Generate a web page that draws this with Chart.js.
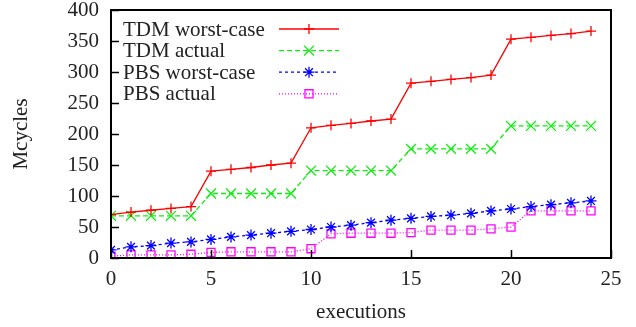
<!DOCTYPE html>
<html>
<head>
<meta charset="utf-8">
<script src="https://cdn.jsdelivr.net/npm/chart.js@4.4.0/dist/chart.umd.min.js"></script>
<style>
  html, body { margin: 0; padding: 0; background: #fff; }
  #wrap { width: 636px; height: 327px; }
</style>
</head>
<body>
<div id="wrap"><canvas id="chart" width="636" height="327"></canvas></div>
<script>
// executions 0..24
const executions = [0,1,2,3,4,5,6,7,8,9,10,11,12,13,14,15,16,17,18,19,20,21,22,23,24];
const tdmWorst  = [70,74,77,80,83, 140,143,146,150,153, 210,214,217,221,224, 282,285,288,291,295, 353,356,359,362,366];
const tdmActual = [68,68,68,68,68, 104,104,104,104,104, 141,141,141,141,141, 176,176,176,176,176, 213,213,213,213,213];
const pbsWorst  = [13,18,20,24,26, 30,34,37,40,43, 46,50,53,57,61, 64,67,69,72,76, 79,83,86,89,92];
const pbsActual = [3,5,5,5,6, 9,10,10,10,10, 15,39,40,40,40, 41,45,45,45,47, 50,76,76,76,76];
const xTicks = [0,5,10,15,20,25];
const yTicks = [0,50,100,150,200,250,300,350,400];

const serif = '"Liberation Serif", "Times New Roman", serif';

function pts(arr) {
    return executions.map((x, i) => ({ x: x, y: arr[i] }));
}

// gnuplot style frame, inward ticks and key
const gnuplotLook = {
    id: 'gnuplotLook',
    afterDraw(chart) {
        const ctx = chart.ctx;
        const a = chart.chartArea;
        const xs = chart.scales.x, ys = chart.scales.y;
        ctx.save();
        ctx.strokeStyle = '#000';
        ctx.lineWidth = 1.5;
        ctx.beginPath();
        xTicks.forEach(v => {
            const px = Math.round(xs.getPixelForValue(v)) + 0.5;
            ctx.moveTo(px, a.bottom);
            ctx.lineTo(px, a.bottom - 8);
        });
        yTicks.forEach(v => {
            const py = Math.round(ys.getPixelForValue(v)) + 0.5;
            ctx.moveTo(a.left, py);
            ctx.lineTo(a.left + 8, py);
        });
        ctx.stroke();
        ctx.lineWidth = 2;
        ctx.strokeRect(a.left, a.top, a.right - a.left, a.bottom - a.top);

        // key
        ctx.font = '21px ' + serif;
        ctx.textBaseline = 'middle';
        ctx.textAlign = 'left';
        chart.data.datasets.forEach((ds, i) => {
            const y = 29 + i * 21.6;
            ctx.fillStyle = '#222';
            ctx.fillText(ds.label, 123, y + 1);
            ctx.strokeStyle = ds.borderColor;
            ctx.lineWidth = ds.borderWidth;
            ctx.setLineDash(ds.borderDash || []);
            ctx.beginPath();
            ctx.moveTo(279, y);
            ctx.lineTo(339, y);
            ctx.stroke();
            ctx.setLineDash([]);
            ctx.lineWidth = ds.pointBorderWidth;
            ctx.fillStyle = 'rgba(0,0,0,0)';
            Chart.helpers.drawPoint(ctx, {
                pointStyle: ds.pointStyle,
                radius: ds.pointRadius,
                rotation: 0,
                borderWidth: ds.pointBorderWidth
            }, 309, y);
        });
        ctx.restore();
    }
};

new Chart(document.getElementById('chart'), {
    type: 'line',
    data: {
        datasets: [{
            label: 'TDM worst-case',
            data: pts(tdmWorst),
            borderColor: '#ff0000',
            backgroundColor: 'transparent',
            borderWidth: 1.3,
            pointStyle: 'cross',
            pointRadius: 5,
            pointBorderWidth: 1.3
        }, {
            label: 'TDM actual',
            data: pts(tdmActual),
            borderColor: '#11ee11',
            backgroundColor: 'transparent',
            borderWidth: 1.3,
            borderDash: [5, 3],
            pointStyle: 'crossRot',
            pointRadius: 7,
            pointBorderWidth: 1.3
        }, {
            label: 'PBS worst-case',
            data: pts(pbsWorst),
            borderColor: '#0000ff',
            backgroundColor: 'transparent',
            borderWidth: 1.3,
            borderDash: [3, 3],
            pointStyle: 'star',
            pointRadius: 5.5,
            pointBorderWidth: 1.3
        }, {
            label: 'PBS actual',
            data: pts(pbsActual),
            borderColor: '#ff00ff',
            backgroundColor: 'transparent',
            borderWidth: 1.3,
            borderDash: [1, 2],
            pointStyle: 'rect',
            pointRadius: 5.7,
            pointBorderWidth: 1.3
        }]
    },
    options: {
        responsive: false,
        animation: false,
        layout: { padding: { left: 0, right: 25, top: 10, bottom: 0 } },
        plugins: { legend: { display: false }, tooltip: { enabled: false } },
        elements: { line: { tension: 0 } },
        scales: {
            x: {
                type: 'linear',
                min: 0, max: 25,
                afterBuildTicks: s => { s.ticks = xTicks.map(v => ({ value: v })); },
                afterFit: s => { s.height = 69; s.paddingLeft = 0; s.paddingRight = 0; },
                grid: { display: false, drawTicks: false },
                border: { display: false },
                ticks: { color: '#222', padding: 11, maxRotation: 0, font: { family: serif, size: 21, lineHeight: 1 } },
                title: { display: true, text: 'executions', color: '#222', padding: { top: 0, bottom: 2 }, font: { family: serif, size: 21 } }
            },
            y: {
                min: 0, max: 400,
                afterBuildTicks: s => { s.ticks = yTicks.map(v => ({ value: v })); },
                afterFit: s => { s.width = 111; s.paddingTop = 0; s.paddingBottom = 0; },
                grid: { display: false, drawTicks: false },
                border: { display: false },
                ticks: { color: '#222', padding: 12, font: { family: serif, size: 21, lineHeight: 1 } },
                title: { display: true, text: 'Mcycles', color: '#222', padding: { top: 9, bottom: 0 }, font: { family: serif, size: 21 } }
            }
        }
    },
    plugins: [gnuplotLook]
});
</script>
</body>
</html>
